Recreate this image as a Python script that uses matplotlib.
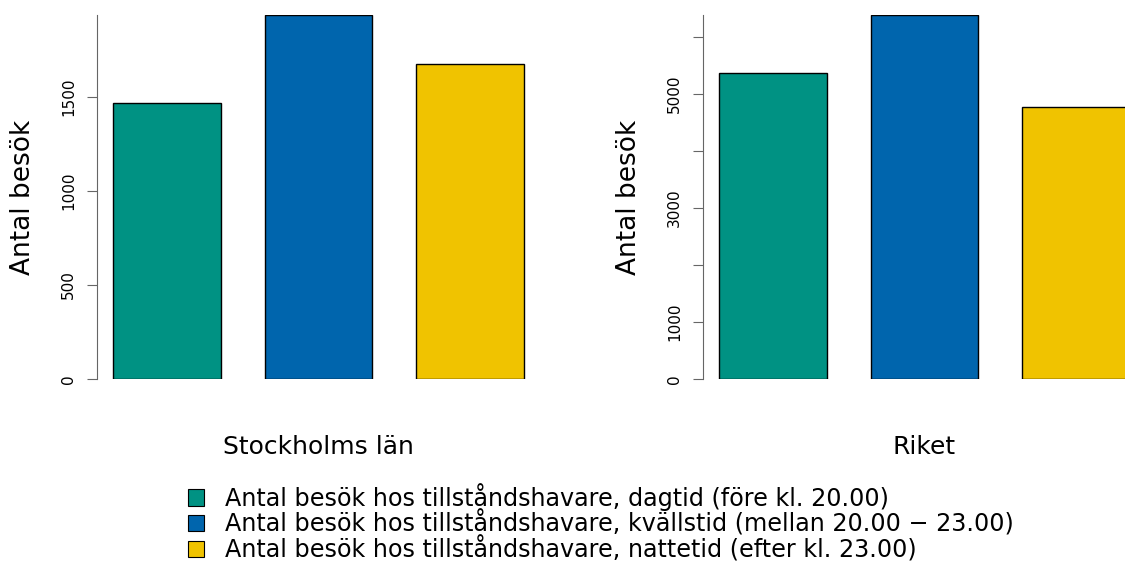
import matplotlib
matplotlib.use('Agg')
import matplotlib.pyplot as plt
from matplotlib.patches import Patch

regions = ['Stockholms län', 'Riket']
series = ['Antal besök hos tillståndshavare, dagtid (före kl. 20.00)',
          'Antal besök hos tillståndshavare, kvällstid (mellan 20.00 \u2212 23.00)',
          'Antal besök hos tillståndshavare, nattetid (efter kl. 23.00)']
stockholm = [1468, 1936, 1676]
riket = [5368, 6386, 4772]
colors = ['#009283', '#0065AD', '#F0C300']

left_ticks = [0, 500, 1000, 1500]
left_labels = ['0', '500', '1000', '1500']
right_ticks = [0, 1000, 2000, 3000, 4000, 5000, 6000]
right_labels = ['0', '1000', '', '3000', '', '5000', '']

plt.rcParams['font.family'] = ['DejaVu Sans']

fig = plt.figure(figsize=(11.25, 5.65), dpi=100)
W, H = 1125, 565
ax_w = 443 / W
ax_h = 364 / H
bottom = 1 - 379 / H

# bar centres like R barplot with space = 0.4
pos = [0.9, 2.3, 3.7]

panels = [(97, stockholm, left_ticks, left_labels, regions[0]),
          (703, riket, right_ticks, right_labels, regions[1])]
for x0, vals, ticks, labels, name in panels:
    ax = fig.add_axes([x0 / W, bottom, ax_w, ax_h])
    ax.bar(pos, vals, width=1, color=colors, edgecolor='black', linewidth=1)
    ax.set_xlim(0.248, 4.352)
    ax.set_ylim(0, max(vals))
    for s in ['top', 'right', 'bottom']:
        ax.spines[s].set_visible(False)
    ax.spines['left'].set_color('#666666')
    ax.set_xticks([])
    ax.set_yticks(ticks)
    ax.set_yticklabels(labels, rotation=90, va='center', fontsize=11)
    ax.tick_params(axis='y', length=7.2, color='#666666', pad=8)
    ax.set_ylabel('Antal besök', fontsize=19)
    ax.yaxis.set_label_coords(-61 / 443, 0.5)
    ax.set_xlabel(name, fontsize=18, labelpad=40)

handles = [Patch(facecolor=c, edgecolor='black', linewidth=0.8) for c in colors]
fig.legend(handles, series, loc='upper left', bbox_to_anchor=(188 / W, 1 - 483 / H),
           frameon=False, fontsize=17.2, handlelength=0.66, handleheight=0.66,
           handletextpad=0.9, labelspacing=-0.03, borderpad=0, borderaxespad=0)

fig.savefig('out.png', dpi=100)
